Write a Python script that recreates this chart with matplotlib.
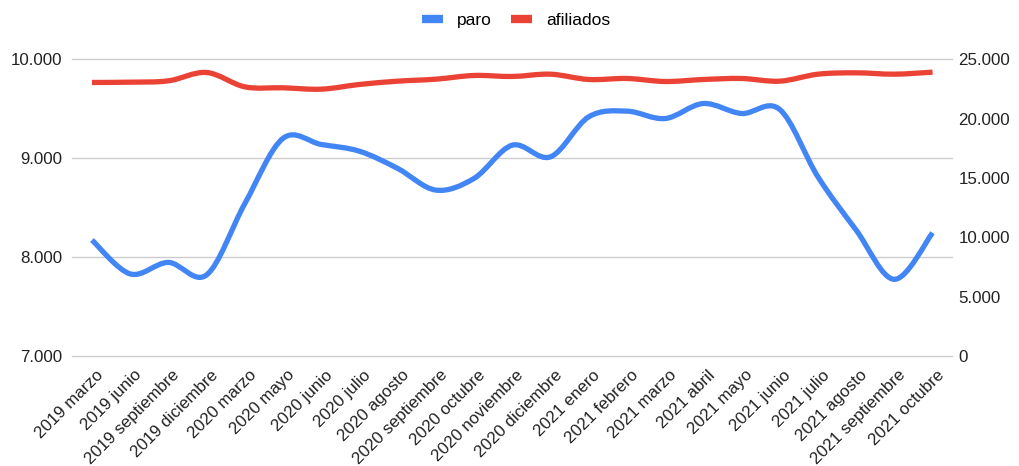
import numpy as np
import matplotlib
matplotlib.use("Agg")
import matplotlib.pyplot as plt
import matplotlib.transforms as mtransforms
from matplotlib.path import Path
from matplotlib.patches import PathPatch
from matplotlib.lines import Line2D
from matplotlib.ticker import FuncFormatter

plt.rcParams['font.family'] = ['Liberation Sans', 'DejaVu Sans']

months = ['2019 marzo', '2019 junio', '2019 septiembre', '2019 diciembre',
          '2020 marzo', '2020 mayo', '2020 junio', '2020 julio', '2020 agosto',
          '2020 septiembre', '2020 octubre', '2020 noviembre', '2020 diciembre',
          '2021 enero', '2021 febrero', '2021 marzo', '2021 abril', '2021 mayo',
          '2021 junio', '2021 julio', '2021 agosto', '2021 septiembre', '2021 octubre']

paro = [8172, 7830, 7946, 7820, 8540, 9200, 9138, 9070, 8896, 8677, 8795, 9131,
        9013, 9417, 9475, 9400, 9552, 9451, 9492, 8811, 8273, 7775, 8245]

afiliados = [23040, 23064, 23176, 23880, 22670, 22590, 22475, 22870, 23148, 23316,
             23628, 23544, 23737, 23290, 23375, 23120, 23290, 23375, 23148, 23737,
             23850, 23737, 23906]

BLUE = '#4285F4'
RED = '#EA4335'


def smooth_path(xs, ys, t=1/6):
    # catmull-rom as cubic bezier segments
    pts = np.column_stack([xs, ys]).astype(float)
    n = len(pts)
    verts = [pts[0]]
    codes = [Path.MOVETO]
    for i in range(n - 1):
        p_prev = pts[max(i - 1, 0)]
        p_next = pts[min(i + 2, n - 1)]
        c1 = pts[i] + (pts[i + 1] - p_prev) * t
        c2 = pts[i + 1] - (p_next - pts[i]) * t
        verts += [c1, c2, pts[i + 1]]
        codes += [Path.CURVE4] * 3
    return Path(verts, codes)


def thousands(v, pos):
    return f"{int(round(v)):,}".replace(',', '.')


fig = plt.figure(figsize=(10.2, 4.66), dpi=100)
ax = fig.add_axes([0.0703, 0.236, 0.8627, 0.637])
ax2 = ax.twinx()

x = np.arange(len(months))

ax2.add_patch(PathPatch(smooth_path(x, afiliados), fill=False, edgecolor=RED,
                        lw=3.8, capstyle='butt', joinstyle='round'))
ax.add_patch(PathPatch(smooth_path(x, paro), fill=False, edgecolor=BLUE,
                       lw=3.8, capstyle='butt', joinstyle='round', zorder=3))

ax.set_xlim(-0.53, len(months) - 1 + 0.5)
ax.set_ylim(7000, 10000)
ax2.set_ylim(0, 25000)
ax.set_yticks([7000, 8000, 9000, 10000])
ax2.set_yticks([0, 5000, 10000, 15000, 20000, 25000])
ax.yaxis.set_major_formatter(FuncFormatter(thousands))
ax2.yaxis.set_major_formatter(FuncFormatter(thousands))

ax.grid(axis='y', color='#cccccc', lw=1)
ax.set_axisbelow(True)
for gl in ax.get_ygridlines():
    gl.set_clip_on(False)
for a in (ax, ax2):
    for s in a.spines.values():
        s.set_visible(False)
    a.tick_params(length=0, labelsize=12.2, colors='#222222')
ax.tick_params(axis='y', pad=7)
ax2.tick_params(axis='y', pad=5)

ax.set_xticks(x)
ax.set_xticklabels(months, rotation=45, ha='right', va='center',
                   rotation_mode='anchor')
ax.tick_params(axis='x', pad=12)
offset = mtransforms.ScaledTranslation(9 / 100, 0, fig.dpi_scale_trans)
for lbl in ax.get_xticklabels():
    lbl.set_transform(lbl.get_transform() + offset)

handles = [Line2D([], [], color=BLUE, lw=6, solid_capstyle='butt'),
           Line2D([], [], color=RED, lw=6, solid_capstyle='butt')]
fig.legend(handles, ['paro', 'afiliados'], loc='center', bbox_to_anchor=(0.506, 0.957),
           ncol=2, frameon=False, fontsize=12.5, handlelength=1.2,
           columnspacing=1.1, handletextpad=0.8)

fig.savefig('out.png', dpi=100)
